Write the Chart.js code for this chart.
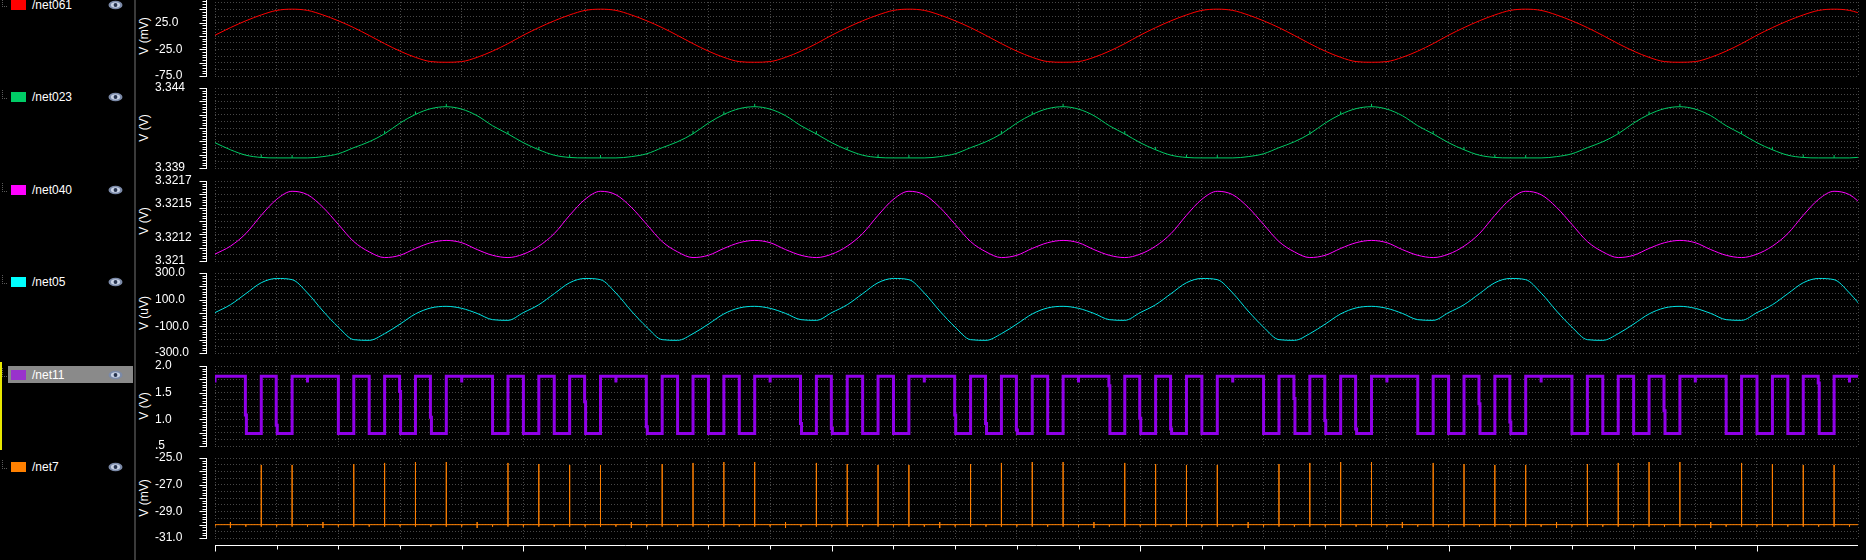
<!DOCTYPE html>
<html>
<head>
<meta charset="utf-8">
<title>waveforms</title>
<script src="https://cdn.jsdelivr.net/npm/chart.js@4.4.1/dist/chart.umd.min.js"></script>
<style>
  html, body { margin: 0; padding: 0; background: #000; }
  body { width: 1866px; height: 560px; overflow: hidden; position: relative;
         font-family: "Liberation Sans", Arial, sans-serif; font-size: 12px; color: #fff; }
  .sep { position: absolute; left: 134px; top: 0; width: 2px; height: 560px; background: #3a3a3a; }
  .sel { position: absolute; left: 8px; top: 366px; width: 125px; height: 17px; background: #8a8a8a; }
  .mark { position: absolute; left: 0; top: 362px; width: 2px; height: 88px; background: #e8e800; }
  .entry { position: absolute; left: 0; width: 134px; height: 14px; }
  .entry .tree { position: absolute; left: 2px; top: 0; width: 4px; height: 8px;
                 border-left: 1px dotted #5a5a5a; border-bottom: 1px dotted #5a5a5a; }
  .entry .sw { position: absolute; left: 11px; top: 2px; width: 15px; height: 10px; }
  .entry .name { position: absolute; left: 32px; top: 0; line-height: 14px; white-space: nowrap; }
  .entry svg { position: absolute; left: 108px; top: 2px; }
  .ytitle { position: absolute; left: 144px; white-space: nowrap; line-height: 12px;
            transform: translate(-50%, -50%) rotate(-90deg); }
  canvas.strip { position: absolute; left: 155px; }
</style>
</head>
<body>
<div class="sep"></div>
<div class="sel"></div>
<div class="mark"></div>
<script>
// time axis is in clock slots (one slot = one small tick on /net7)
const slotMax = 106.55;

const netNames = ['/net061', '/net023', '/net040', '/net05', '/net11', '/net7'];
const netColors = ['#ff0000', '#00cc66', '#ff00ff', '#00e4e4', '#9000e8', '#ff8000'];
const swatchColors = ['#ff0000', '#00cc66', '#ff00ff', '#00ffff', '#9932cc', '#ff8000'];
const unitTitles = ['V (mV)', 'V (V)', 'V (V)', 'V (uV)', 'V (V)', 'V (mV)'];

// one value per slot, slots 0..107
const net061 = [
  1.5, 15.7, 28.5, 39.5, 48, 50.3, 48, 39.5, 28.5, 15.7, 1, -14.3, -28.4, -40, -48, -49.2, -48, -40, -28.4, -14.3,
  1.5, 15.7, 28.5, 39.5, 48, 50.3, 48, 39.5, 28.5, 15.7, 1, -14.3, -28.4, -40, -48, -49.2, -48, -40, -28.4, -14.3,
  1.5, 15.7, 28.5, 39.5, 48, 50.3, 48, 39.5, 28.5, 15.7, 1, -14.3, -28.4, -40, -48, -49.2, -48, -40, -28.4, -14.3,
  1.5, 15.7, 28.5, 39.5, 48, 50.3, 48, 39.5, 28.5, 15.7, 1, -14.3, -28.4, -40, -48, -49.2, -48, -40, -28.4, -14.3,
  1.5, 15.7, 28.5, 39.5, 48, 50.3, 48, 39.5, 28.5, 15.7, 1, -14.3, -28.4, -40, -48, -49.2, -48, -40, -28.4, -14.3,
  1.5, 15.7, 28.5, 39.5, 48, 50.3, 48, 39.5
];
const net023 = [
  3.34058, 3.34014, 3.3398, 3.33966, 3.33963, 3.33963, 3.33963, 3.33971, 3.33989, 3.34027, 3.34064, 3.34114, 3.34181, 3.34235, 3.34271, 3.34283, 3.34268, 3.34227, 3.34164, 3.34113,
  3.34058, 3.34014, 3.3398, 3.33966, 3.33963, 3.33963, 3.33963, 3.33971, 3.33989, 3.34027, 3.34064, 3.34114, 3.34181, 3.34235, 3.34271, 3.34283, 3.34268, 3.34227, 3.34164, 3.34113,
  3.34058, 3.34014, 3.3398, 3.33966, 3.33963, 3.33963, 3.33963, 3.33971, 3.33989, 3.34027, 3.34064, 3.34114, 3.34181, 3.34235, 3.34271, 3.34283, 3.34268, 3.34227, 3.34164, 3.34113,
  3.34058, 3.34014, 3.3398, 3.33966, 3.33963, 3.33963, 3.33963, 3.33971, 3.33989, 3.34027, 3.34064, 3.34114, 3.34181, 3.34235, 3.34271, 3.34283, 3.34268, 3.34227, 3.34164, 3.34113,
  3.34058, 3.34014, 3.3398, 3.33966, 3.33963, 3.33963, 3.33963, 3.33971, 3.33989, 3.34027, 3.34064, 3.34114, 3.34181, 3.34235, 3.34271, 3.34283, 3.34268, 3.34227, 3.34164, 3.34113,
  3.34058, 3.34014, 3.3398, 3.33966, 3.33963, 3.33963, 3.33963, 3.33971
];
const net040 = [
  3.32106, 3.32113, 3.32124, 3.3214, 3.32154, 3.32161, 3.32158, 3.32147, 3.32132, 3.32117, 3.32108, 3.32103, 3.32105, 3.32111, 3.32116, 3.32118, 3.32116, 3.3211, 3.32105, 3.32103,
  3.32106, 3.32113, 3.32124, 3.3214, 3.32154, 3.32161, 3.32158, 3.32147, 3.32132, 3.32117, 3.32108, 3.32103, 3.32105, 3.32111, 3.32116, 3.32118, 3.32116, 3.3211, 3.32105, 3.32103,
  3.32106, 3.32113, 3.32124, 3.3214, 3.32154, 3.32161, 3.32158, 3.32147, 3.32132, 3.32117, 3.32108, 3.32103, 3.32105, 3.32111, 3.32116, 3.32118, 3.32116, 3.3211, 3.32105, 3.32103,
  3.32106, 3.32113, 3.32124, 3.3214, 3.32154, 3.32161, 3.32158, 3.32147, 3.32132, 3.32117, 3.32108, 3.32103, 3.32105, 3.32111, 3.32116, 3.32118, 3.32116, 3.3211, 3.32105, 3.32103,
  3.32106, 3.32113, 3.32124, 3.3214, 3.32154, 3.32161, 3.32158, 3.32147, 3.32132, 3.32117, 3.32108, 3.32103, 3.32105, 3.32111, 3.32116, 3.32118, 3.32116, 3.3211, 3.32105, 3.32103,
  3.32106, 3.32113, 3.32124, 3.3214, 3.32154, 3.32161, 3.32158, 3.32147
];
const net05 = [
  3, 62, 145, 227, 259, 250, 150, 15, -106, -200, -205, -155, -83, -7, 38, 50, 35, -3, -50, -55,
  3, 62, 145, 227, 259, 250, 150, 15, -106, -200, -205, -155, -83, -7, 38, 50, 35, -3, -50, -55,
  3, 62, 145, 227, 259, 250, 150, 15, -106, -200, -205, -155, -83, -7, 38, 50, 35, -3, -50, -55,
  3, 62, 145, 227, 259, 250, 150, 15, -106, -200, -205, -155, -83, -7, 38, 50, 35, -3, -50, -55,
  3, 62, 145, 227, 259, 250, 150, 15, -106, -200, -205, -155, -83, -7, 38, 50, 35, -3, -50, -55,
  3, 62, 145, 227, 259, 250, 150, 15
];

// small glitches riding on /net023
const net023Glitch = [3, 5, 11, 13, 15, 19, 21, 23, 25, 31, 33, 35, 39, 41, 43, 45, 51, 53, 55, 59,
  61, 63, 65, 71, 73, 75, 79, 81, 83, 85, 91, 93, 95, 99, 101, 103, 105];

// /net11 square wave
const net11High = 1.81;
const net11Low = 0.734;
const net11NotchLow = 1.69;
const net11Rise = [3, 5, 9, 11, 13, 15, 19, 21, 23, 25, 29, 31, 33, 35, 39, 41, 43, 45, 49, 51, 53,
  55, 59, 61, 63, 65, 69, 71, 73, 75, 79, 81, 83, 85, 89, 91, 93, 95, 99, 101, 103, 105];
const net11Fall = [2, 4, 8, 10, 12, 14, 18, 20, 22, 24, 28, 30, 32, 34, 38, 40, 42, 44, 48, 50, 52,
  54, 58, 60, 62, 64, 68, 70, 72, 74, 78, 80, 82, 84, 88, 90, 92, 94, 98, 100, 102, 104];
const net11FallStep = [1.08, 0.89, null, null, 1.52, 1.04, null, null, null, 1.33, 0.86, null, null, null,
  0.92, 0.83, null, null, 1.08, 0.92, 0.8, null, 1.63, 1.02, 0.82, null, null, 1.39, 0.98, 0.82, null,
  null, 1.29, 0.95, null, null, null, 1.16, null, null, null, 1.68];
const net11Notch = [0, 6, 16, 26, 36, 46, 56, 66, 76, 86, 96, 106];

// /net7 spikes (mV)
const net7Base = -30.0;
const net7Dip = -30.15;
const net7Spike = [3, 5, 9, 11, 13, 15, 19, 21, 23, 25, 29, 31, 33, 35, 39, 41, 43, 45, 49, 51, 53,
  55, 59, 61, 63, 65, 69, 71, 73, 75, 79, 81, 83, 85, 89, 91, 93, 95, 99, 101, 103, 105];
const net7SpikeTop = [-25.52, -25.52, -25.45, -25.37, -25.3, -25.3, -25.37, -25.45, -25.52, -25.52,
  -25.45, -25.37, -25.3, -25.3, -25.37, -25.45, -25.52, -25.52, -25.45, -25.37, -25.3,
  -25.3, -25.37, -25.45, -25.52, -25.52, -25.45, -25.37, -25.3, -25.3, -25.37,
  -25.45, -25.52, -25.52, -25.45, -25.37, -25.3, -25.3, -25.37, -25.45, -25.52, -25.52];
const net7Glitch = [1, 7, 17, 27, 37, 47, 57, 67, 77, 87, 97];
const net7GlitchHi = -29.8;
const net7GlitchLo = -30.25;

// axis ranges and tick labels
const yMin = [-75, 3.339, 3.321, -300, 0.5, -31];
const yMax = [75, 3.344, 3.3217, 300, 2.0, -25];
const tickValues = [
  [75, 25, -25, -75],
  [3.344, 3.339],
  [3.3217, 3.3215, 3.3212, 3.321],
  [300, 100, -100, -300],
  [2.0, 1.5, 1.0, 0.5],
  [-25, -27, -29, -31]
];
const tickLabels = [
  ['75.0', '25.0', '-25.0', '-75.0'],
  ['3.344', '3.339'],
  ['3.3217', '3.3215', '3.3212', '3.321'],
  ['300.0', '100.0', '-100.0', '-300.0'],
  ['2.0', '1.5', '1.0', '.5'],
  ['-25.0', '-27.0', '-29.0', '-31.0']
];

// layout
const stripTops = [-4, 88, 181, 273, 366, 458];
const stripHeight = 80;
const gridColor = '#474747';
const gridRows = 12;

// ---- legend panel ----
stripTops.forEach((top, i) => {
  const c = top + 9;
  const e = document.createElement('div');
  e.className = 'entry';
  e.style.top = (c - 7) + 'px';
  e.innerHTML = `<div class="tree"></div><div class="sw" style="background:${swatchColors[i]}"></div>
    <div class="name">${netNames[i]}</div>
    <svg width="15" height="10" viewBox="0 0 15 10"><ellipse cx="7.5" cy="5" rx="7" ry="4.3" fill="#7b8aa8"/>
    <ellipse cx="7.5" cy="5" rx="4.6" ry="2.8" fill="#c8d2e6"/><circle cx="7.5" cy="5" r="1.9" fill="#26334e"/></svg>`;
  document.body.appendChild(e);

  const t = document.createElement('div');
  t.className = 'ytitle';
  t.style.top = (top + stripHeight / 2) + 'px';
  t.textContent = unitTitles[i];
  document.body.appendChild(t);
});

// ---- build the point lists ----
function slotSeries(values) {
  return values.map((v, k) => ({ x: k, y: v }));
}

function glitchPoints(values, slots, dy) {
  const pts = [];
  slots.forEach(s => {
    pts.push({ x: s, y: values[s] }, { x: s, y: values[s] + dy }, { x: s, y: null });
  });
  return pts;
}

function net11Points() {
  const pts = [];
  for (let s = 0; s <= 106; s++) {
    if (net11Notch.includes(s)) {
      pts.push({ x: s, y: net11High }, { x: s, y: net11NotchLow }, { x: s, y: net11High });
    }
    const f = net11Fall.indexOf(s);
    if (f >= 0) {
      const st = net11FallStep[f];
      if (st !== null) {
        pts.push({ x: s - 0.03, y: net11High }, { x: s - 0.03, y: st },
                 { x: s + 0.035, y: st }, { x: s + 0.035, y: net11Low });
      } else {
        pts.push({ x: s, y: net11High }, { x: s, y: net11Low });
      }
    }
    if (net11Rise.includes(s)) {
      pts.push({ x: s, y: net11Low }, { x: s, y: net11High });
    }
  }
  pts.push({ x: slotMax, y: net11High });
  return pts;
}

function net7Points() {
  const pts = [];
  for (let s = 0; s <= 106; s++) {
    pts.push({ x: s, y: net7Base });
    const k = net7Spike.indexOf(s);
    const g = net7Glitch.includes(s);
    if (k >= 0) pts.push({ x: s, y: net7SpikeTop[k] });
    else if (g) pts.push({ x: s, y: net7GlitchHi });
    pts.push({ x: s, y: g ? net7GlitchLo : net7Dip }, { x: s, y: net7Base });
  }
  pts.push({ x: slotMax, y: net7Base });
  return pts;
}

const analog = (data, color) => ({
  data, borderColor: color, borderWidth: 1, pointRadius: 0,
  cubicInterpolationMode: 'monotone', spanGaps: false
});
const stepped = (data, color, width) => ({
  data, borderColor: color, borderWidth: width, pointRadius: 0, tension: 0,
  borderJoinStyle: 'miter', borderCapStyle: 'butt', spanGaps: false
});

const stripData = [
  [analog(slotSeries(net061), netColors[0])],
  [analog(slotSeries(net023), netColors[1]), stepped(glitchPoints(net023, net023Glitch, 0.00018), netColors[1], 1)],
  [analog(slotSeries(net040), netColors[2])],
  [analog(slotSeries(net05), netColors[3])],
  [stepped(net11Points(), netColors[4], 3)],
  [stepped(net7Points(), netColors[5], 1)]
];

// ---- plugins: the white ruler beside each strip and the time axis ----
const rulerPlugin = {
  id: 'ruler',
  afterDraw(chart) {
    const { ctx, chartArea: a, scales: { y } } = chart;
    const rx = Math.round(a.left - 9) + 0.5;
    ctx.save();
    ctx.strokeStyle = '#ffffff';
    ctx.lineWidth = 1;
    ctx.beginPath();
    ctx.moveTo(rx, a.top);
    ctx.lineTo(rx, a.bottom + 1);
    for (let i = 0; i <= 30; i++) {
      const py = Math.round(y.getPixelForValue(y.min + (y.max - y.min) * i / 30)) + 0.5;
      const len = i % 5 === 0 ? 7 : 4;
      ctx.moveTo(rx, py);
      ctx.lineTo(rx - len, py);
    }
    ctx.stroke();
    ctx.restore();
  }
};

const timeAxisPlugin = {
  id: 'timeAxis',
  afterDraw(chart) {
    const { ctx, chartArea: a, scales: { x } } = chart;
    const ay = Math.round(a.bottom + 7) + 0.5;
    ctx.save();
    ctx.strokeStyle = '#ffffff';
    ctx.lineWidth = 1;
    ctx.beginPath();
    ctx.moveTo(a.left, ay);
    ctx.lineTo(a.right, ay);
    x.ticks.filter(t => t.value % 4 === 0).forEach(t => {
      const px = Math.round(x.getPixelForValue(t.value)) + 0.5;
      ctx.moveTo(px, ay);
      ctx.lineTo(px, ay + (t.value % 20 === 0 ? 6 : 4));
    });
    ctx.stroke();
    ctx.restore();
  }
};

// ---- one chart per strip ----
stripTops.forEach((top, i) => {
  const last = i === stripTops.length - 1;
  const padBottom = last ? 16 : 10;
  const canvas = document.createElement('canvas');
  canvas.className = 'strip';
  canvas.width = 1711;
  canvas.height = stripHeight + 10 + padBottom;
  canvas.style.top = (top - 10) + 'px';
  document.body.appendChild(canvas);

  new Chart(canvas, {
    type: 'line',
    data: { datasets: stripData[i] },
    options: {
      responsive: false,
      animation: false,
      events: [],
      layout: { padding: { top: 10, bottom: padBottom, left: 0, right: 8 } },
      plugins: { legend: { display: false }, tooltip: { enabled: false } },
      scales: {
        x: {
          type: 'linear', min: 0, max: slotMax,
          afterFit: s => { s.height = 0; },
          ticks: { display: false, stepSize: 4 },
          grid: { color: gridColor, drawTicks: false },
          border: { display: false, dash: [1, 2] }
        },
        y: {
          min: yMin[i], max: yMax[i], position: 'left', weight: 1,
          afterFit: s => { s.width = 60; },
          afterBuildTicks: s => { s.ticks = tickValues[i].map(v => ({ value: v })); },
          ticks: {
            color: '#ffffff', autoSkip: false, crossAlign: 'far', padding: 0,
            font: { family: 'Liberation Sans', size: 12 },
            callback: (v, k) => tickLabels[i][k]
          },
          grid: { display: false },
          border: { display: false }
        },
        yg: {
          min: yMin[i], max: yMax[i], position: 'left', weight: 0,
          afterFit: s => { s.width = 0; },
          afterBuildTicks: s => {
            const list = [];
            for (let r = 0; r <= gridRows; r++) list.push({ value: s.min + (s.max - s.min) * r / gridRows });
            s.ticks = list;
          },
          ticks: { display: false },
          grid: { color: gridColor, drawTicks: false },
          border: { display: false, dash: [1, 2] }
        }
      }
    },
    plugins: last ? [rulerPlugin, timeAxisPlugin] : [rulerPlugin]
  });
});
</script>
</body>
</html>
